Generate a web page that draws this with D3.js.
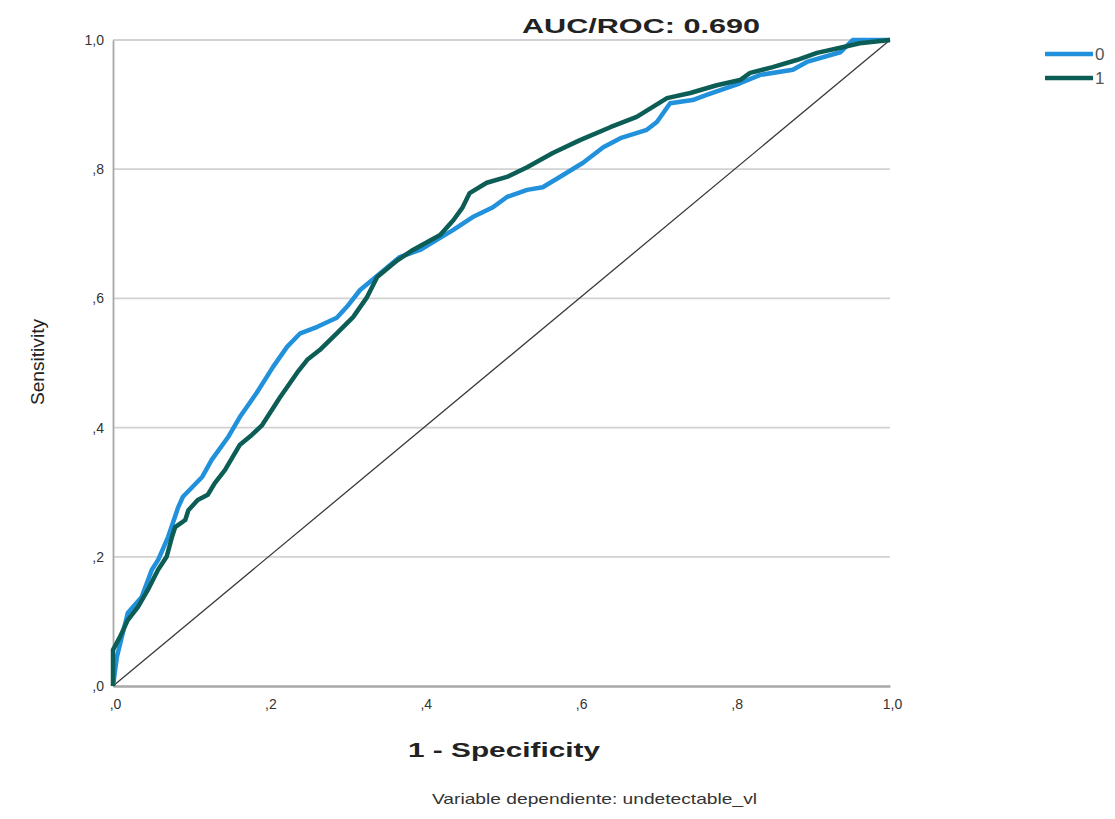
<!DOCTYPE html>
<html>
<head>
<meta charset="utf-8">
<script src="https://cdn.jsdelivr.net/npm/d3@7"></script>
<style>
  body { margin: 0; background: #fff; }
  svg { font-family: "Liberation Sans", Arial, sans-serif; }
</style>
</head>
<body>
<div id="chart"></div>
<script>
const title = "AUC/ROC: 0.690";
const xLabel = "1 - Specificity";
const yLabel = "Sensitivity";
const footnote = "Variable dependiente: undetectable_vl";
const ticks = [0, 0.2, 0.4, 0.6, 0.8, 1.0];
const tickLabels = [",0", ",2", ",4", ",6", ",8", "1,0"];
const seriesNames = ["0", "1"];
const seriesColors = ["#2191db", "#0c5d56"];

// series "0": [1 - specificity, sensitivity]
const roc0 = [
  [0, 0], [0.005, 0.045], [0.019, 0.113], [0.037, 0.138], [0.05, 0.18],
  [0.058, 0.195], [0.071, 0.231], [0.084, 0.277], [0.09, 0.293], [0.115, 0.324],
  [0.127, 0.35], [0.148, 0.385], [0.163, 0.416], [0.185, 0.454], [0.206, 0.494],
  [0.224, 0.525], [0.241, 0.546], [0.263, 0.556], [0.288, 0.57], [0.301, 0.587],
  [0.318, 0.613], [0.344, 0.639], [0.369, 0.664], [0.395, 0.675], [0.438, 0.706],
  [0.463, 0.726], [0.489, 0.741], [0.507, 0.757], [0.533, 0.768], [0.553, 0.772],
  [0.575, 0.788], [0.605, 0.81], [0.631, 0.834], [0.653, 0.848], [0.687, 0.861],
  [0.7, 0.873], [0.717, 0.902], [0.746, 0.907], [0.764, 0.915], [0.807, 0.933],
  [0.833, 0.946], [0.875, 0.954], [0.893, 0.966], [0.936, 0.981], [0.952, 1.0],
  [1.0, 1.0]
];

// series "1"
const roc1 = [
  [0, 0], [0, 0.056], [0.009, 0.076], [0.019, 0.102], [0.032, 0.122],
  [0.045, 0.149], [0.058, 0.18], [0.069, 0.2], [0.076, 0.231], [0.08, 0.246],
  [0.093, 0.257], [0.097, 0.272], [0.109, 0.288], [0.122, 0.296], [0.131, 0.314],
  [0.144, 0.334], [0.163, 0.373], [0.179, 0.389], [0.192, 0.404], [0.215, 0.447],
  [0.237, 0.485], [0.25, 0.505], [0.266, 0.52], [0.288, 0.546], [0.309, 0.571],
  [0.327, 0.602], [0.34, 0.633], [0.366, 0.659], [0.386, 0.675], [0.421, 0.698],
  [0.438, 0.721], [0.45, 0.741], [0.459, 0.763], [0.481, 0.779], [0.507, 0.788],
  [0.533, 0.803], [0.566, 0.825], [0.601, 0.845], [0.64, 0.865], [0.674, 0.881],
  [0.713, 0.91], [0.743, 0.918], [0.777, 0.93], [0.807, 0.938], [0.82, 0.949],
  [0.849, 0.958], [0.88, 0.969], [0.906, 0.98], [0.936, 0.988], [0.961, 0.995],
  [1.0, 1.0]
];

const diagonal = [[0, 0], [1, 1]];

const width = 1115, height = 819;
const plot = { left: 113, right: 890, top: 40, bottom: 686 };

const svg = d3.select("#chart").append("svg")
  .attr("width", width)
  .attr("height", height);

const x = d3.scaleLinear().domain([0, 1]).range([plot.left, plot.right]);
const y = d3.scaleLinear().domain([0, 1]).range([plot.bottom, plot.top]);

// gridlines
svg.append("g")
  .selectAll("line")
  .data(ticks.slice(1))
  .join("line")
  .attr("x1", plot.left)
  .attr("x2", plot.right)
  .attr("y1", (d) => y(d))
  .attr("y2", (d) => y(d))
  .attr("stroke", "#d2d2d2")
  .attr("stroke-width", 1.8);

// axes
const xAxis = svg.append("g")
  .attr("transform", `translate(0,${plot.bottom})`)
  .call(d3.axisBottom(x).tickValues(ticks).tickSize(0).tickPadding(13)
    .tickFormat((d, i) => tickLabels[i]));
xAxis.select(".domain").attr("stroke", "#a8a8a8").attr("stroke-width", 2.5);
xAxis.selectAll("text")
  .attr("font-size", 14)
  .attr("fill", "#333")
  .attr("dx", 2);

const yAxis = svg.append("g")
  .attr("transform", `translate(${plot.left},0)`)
  .call(d3.axisLeft(y).tickValues(ticks).tickSize(0).tickPadding(9)
    .tickFormat((d, i) => tickLabels[i]));
yAxis.select(".domain").attr("stroke", "#a8a8a8").attr("stroke-width", 1.8);
yAxis.selectAll("text")
  .attr("font-size", 14)
  .attr("fill", "#333");

const line = d3.line()
  .x((d) => x(d[0]))
  .y((d) => y(d[1]));

// reference diagonal
svg.append("path")
  .attr("d", line(diagonal))
  .attr("fill", "none")
  .attr("stroke", "#3a3a3a")
  .attr("stroke-width", 1.3);

[roc0, roc1].forEach((data, i) => {
  svg.append("path")
    .attr("d", line(data))
    .attr("fill", "none")
    .attr("stroke", seriesColors[i])
    .attr("stroke-width", 4.5)
    .attr("stroke-linejoin", "round");
});

// title
svg.append("text")
  .attr("x", 522)
  .attr("y", 33)
  .attr("font-size", 21)
  .attr("font-weight", "bold")
  .attr("fill", "#222")
  .attr("textLength", 238)
  .attr("lengthAdjust", "spacingAndGlyphs")
  .text(title);

svg.append("text")
  .attr("x", 408)
  .attr("y", 757)
  .attr("font-size", 21)
  .attr("font-weight", "bold")
  .attr("fill", "#222")
  .attr("textLength", 192)
  .attr("lengthAdjust", "spacingAndGlyphs")
  .text(xLabel);

svg.append("text")
  .attr("transform", "translate(44,362) rotate(-90)")
  .attr("x", -43)
  .attr("font-size", 18)
  .attr("fill", "#222")
  .attr("textLength", 86)
  .attr("lengthAdjust", "spacingAndGlyphs")
  .text(yLabel);

svg.append("text")
  .attr("x", 432)
  .attr("y", 804)
  .attr("font-size", 15)
  .attr("fill", "#333")
  .attr("textLength", 325)
  .attr("lengthAdjust", "spacingAndGlyphs")
  .text(footnote);

// legend
const legend = svg.append("g")
  .selectAll("g")
  .data(seriesNames)
  .join("g")
  .attr("transform", (d, i) => `translate(1045,${54 + i * 24})`);

legend.append("line")
  .attr("x1", 0)
  .attr("x2", 48)
  .attr("stroke", (d, i) => seriesColors[i])
  .attr("stroke-width", 4.5);

legend.append("text")
  .attr("x", 50)
  .attr("dy", "0.36em")
  .attr("font-size", 17)
  .attr("fill", "#555")
  .text((d) => d);
</script>
</body>
</html>
